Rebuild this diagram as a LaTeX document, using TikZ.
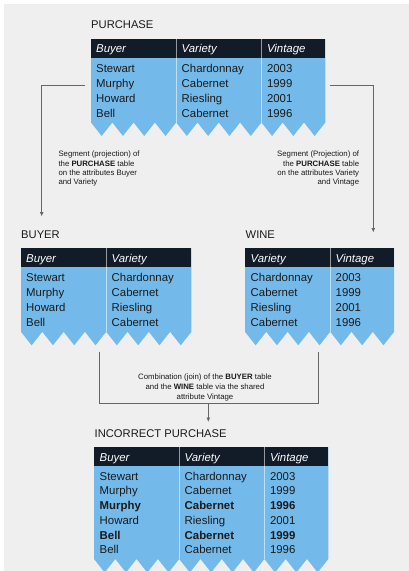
\documentclass[tikz,border=0pt]{standalone}
\usepackage{fontspec}
\setmainfont{Liberation Sans}
\usetikzlibrary{arrows.meta}

\definecolor{bg}{HTML}{EFEFEF}
\definecolor{tblue}{HTML}{73BAEB}
\definecolor{thead}{HTML}{111C28}
\definecolor{ink}{HTML}{1A1A1A}
\definecolor{linkgray}{HTML}{666666}

\tikzset{
  cell/.style={anchor=base west, inner sep=0pt, font=\fontsize{11.4}{12}\selectfont, text=ink},
  boldcell/.style={cell, font=\fontsize{11.4}{12}\selectfont\bfseries},
  hcell/.style={anchor=base west, inner sep=0pt, font=\fontsize{11.4}{12}\selectfont\itshape, text=white},
  ttl/.style={anchor=base west, inner sep=0pt, font=\fontsize{11.2}{12}\selectfont, text=ink},
  note/.style={inner sep=0pt, font=\fontsize{7.8}{9.3}\selectfont, text=ink},
  coldiv/.style={draw=white, draw opacity=.55, line width=.6pt},
  link/.style={draw=linkgray, line width=1pt},
  linkarrow/.style={link, -{Latex[length=4.5pt,width=4pt]}},
}

% table body: #1 left x, #2 top y, #3 number of teeth, #4 y of the zigzag valleys
\newcommand{\tabshape}[4]{%
  \fill[tblue] (#1,#2) -- (#1,#4)
    \foreach \k in {1,...,#3}{ -- ++(10.65,13.5) -- ++(10.65,-13.5)}
    |- (#1,#2) -- cycle;
  \fill[thead] (#1,#2) rectangle ++({#3*21.3},19);
}

\begin{document}
\begin{tikzpicture}[x=1pt,y=-1pt]
\useasboundingbox (0,0) rectangle (409,571);
\fill[bg] (4,4) rectangle (409,575);

%% ---------------- PURCHASE ----------------
\node[ttl] (tPurchase) at (91,28.3) {PURCHASE};
\tabshape{91}{39}{11}{122.5}
\draw[coldiv] (176.2,39) -- (176.2,122.5);
\draw[coldiv] (261.5,39) -- (261.5,122.5);
\node[hcell] (pH1) at (96,52.7) {Buyer};
\node[hcell] (pH2) at (181.5,52.7) {Variety};
\node[hcell] (pH3) at (266.8,52.7) {Vintage};
\foreach \n/\b/\v/\y [count=\i] in {Stewart/Chardonnay/2003/72.3, Murphy/Cabernet/1999/87.3, Howard/Riesling/2001/102.3, Bell/Cabernet/1996/117.3}{
  \node[cell] (pA\i) at (96,\y) {\n};
  \node[cell] (pB\i) at (181.5,\y) {\b};
  \node[cell] (pC\i) at (266.8,\y) {\v};
}
\coordinate (purchaseW) at (85,85.5);
\coordinate (purchaseE) at (329.5,85.5);

%% ---------------- BUYER ----------------
\node[ttl] (tBuyer) at (21,238.3) {BUYER};
\tabshape{21}{248.3}{8}{331.8}
\draw[coldiv] (106.2,248.3) -- (106.2,331.8);
\node[hcell] (bH1) at (26,262) {Buyer};
\node[hcell] (bH2) at (111.5,262) {Variety};
\foreach \n/\b/\y [count=\i] in {Stewart/Chardonnay/281.5, Murphy/Cabernet/296.5, Howard/Riesling/311.5, Bell/Cabernet/326.5}{
  \node[cell] (bA\i) at (26,\y) {\n};
  \node[cell] (bB\i) at (111.5,\y) {\b};
}
\coordinate (buyerIn) at (41.7,216.5);
\coordinate (buyerOut) at (99,351.7);

%% ---------------- WINE ----------------
\node[ttl] (tWine) at (245.5,238.3) {WINE};
\tabshape{245}{248.3}{7}{331.8}
\draw[coldiv] (330.2,248.3) -- (330.2,331.8);
\node[hcell] (wH1) at (250.5,262) {Variety};
\node[hcell] (wH2) at (335.5,262) {Vintage};
\foreach \b/\v/\y [count=\i] in {Chardonnay/2003/281.5, Cabernet/1999/296.5, Riesling/2001/311.5, Cabernet/1996/326.5}{
  \node[cell] (wA\i) at (250.5,\y) {\b};
  \node[cell] (wB\i) at (335.5,\y) {\v};
}
\coordinate (wineIn) at (373.3,232.5);
\coordinate (wineOut) at (318.3,351.7);

%% ---------------- INCORRECT PURCHASE ----------------
\node[ttl] (tIncorrect) at (94.5,437.3) {INCORRECT PURCHASE};
\tabshape{94}{447.3}{11}{559}
\draw[coldiv] (179.2,447.3) -- (179.2,559);
\draw[coldiv] (264.5,447.3) -- (264.5,559);
\node[hcell] (iH1) at (99.5,461) {Buyer};
\node[hcell] (iH2) at (184.5,461) {Variety};
\node[hcell] (iH3) at (269.8,461) {Vintage};
\foreach \n/\b/\v/\y/\s [count=\i] in {Stewart/Chardonnay/2003/480.2/cell, Murphy/Cabernet/1999/494.9/cell, Murphy/Cabernet/1996/509.6/boldcell, Howard/Riesling/2001/524.3/cell, Bell/Cabernet/1999/539/boldcell, Bell/Cabernet/1996/553.7/cell}{
  \node[\s] (iA\i) at (99.5,\y) {\n};
  \node[\s] (iB\i) at (184.5,\y) {\b};
  \node[\s] (iC\i) at (269.8,\y) {\v};
}
\coordinate (joinMid) at (208.3,403.3);
\coordinate (incorrectIn) at (208.3,422);

%% ---------------- connectors ----------------
\draw[linkarrow] (purchaseW) -| (buyerIn);
\draw[linkarrow] (purchaseE) -| (wineIn);
\draw[link] (buyerOut) |- (joinMid) -| (wineOut);
\draw[linkarrow] (joinMid) -- (incorrectIn);

%% ---------------- notes (anchored on the baseline of their last line) ----------------
\node[note, anchor=base west, align=left] (noteLeft) at (58.3,184.6)
  {Segment (projection) of\\the \textbf{PURCHASE} table\\on the attributes Buyer\\and Variety};
\node[note, anchor=base east, align=right] (noteRight) at (359.3,184.6)
  {Segment (Projection) of\\the \textbf{PURCHASE} table\\on the attributes Variety\\and Vintage};
\node[note, anchor=base, align=center, font=\fontsize{7.8}{10}\selectfont] (noteJoin) at (205,399.4)
  {Combination (join) of the \textbf{BUYER} table\\and the \textbf{WINE} table via the shared\\attribute Vintage};
\end{tikzpicture}
\end{document}
